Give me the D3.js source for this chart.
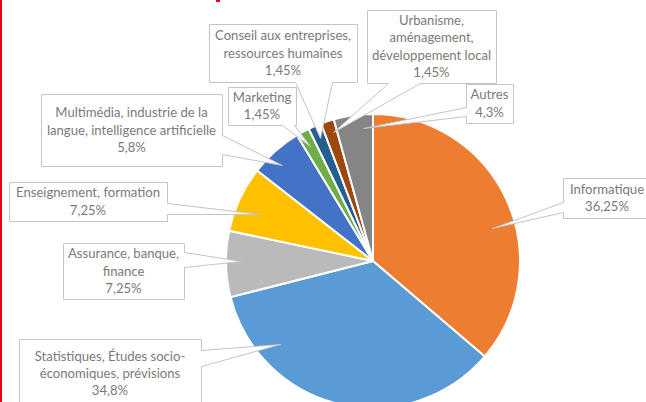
<!DOCTYPE html>
<html>
    <head>
        <meta charset="utf-8">
        <style>
            html, body {
                margin: 0px;
                padding: 0px;
                background-color: #ffffff;
            }

            #main svg {
                display: block;
            }

            .callout text {
                fill: #7a7a7a;
                font-family: Lato, sans-serif;
                font-size: 13.1px;
            }
        </style>
        <script src="https://cdn.jsdelivr.net/npm/d3@7"></script>
    </head>
    <body>
        <div id="main"></div>

        <script>
            // data
            var categories = [
                "Informatique",
                "Statistiques, Études socio-économiques, prévisions",
                "Assurance, banque, finance",
                "Enseignement, formation",
                "Multimédia, industrie de la langue, intelligence artificielle",
                "Marketing",
                "Conseil aux entreprises, ressources humaines",
                "Urbanisme, aménagement, développement local",
                "Autres"
            ];
            var values = [36.25, 34.8, 7.25, 7.25, 5.8, 1.45, 1.45, 1.45, 4.3];

            // how each category label is wrapped inside its callout
            var labelLines = [
                ["Informatique"],
                ["Statistiques, Études socio-", "économiques, prévisions"],
                ["Assurance, banque,", "finance"],
                ["Enseignement, formation"],
                ["Multimédia, industrie de la", "langue, intelligence artificielle"],
                ["Marketing"],
                ["Conseil aux entreprises,", "ressources humaines"],
                ["Urbanisme,", "aménagement,", "développement local"],
                ["Autres"]
            ];

            var colors = ["#ed7d31", "#5b9bd5", "#bababa", "#ffc000", "#4472c4",
                          "#70ad47", "#255e91", "#9e480e", "#858585"];

            // callout layout: box, side of the box the leader leaves from, and
            // where inside the slice the leader points (t = along slice, rf = radius fraction)
            var callouts = [
                {x: 563, y: 178, w: 88,  h: 40, side: "left",   a: 24, b: 34, t: 0.57, rf: 0.84},
                {x: 19,  y: 339, w: 182, h: 69, side: "right",  a: 11, b: 27, t: 0.78, rf: 0.85},
                {x: 63,  y: 243, w: 121, h: 56, side: "right",  a: 9,  b: 24, t: 0.55, rf: 0.90},
                {x: 9,   y: 182, w: 158, h: 39, side: "right",  a: 21, b: 32, t: 0.41, rf: 0.83},
                {x: 41,  y: 94,  w: 181, h: 72, side: "right",  a: 41, b: 60, t: 0.42, rf: 0.90},
                {x: 228, y: 87,  w: 68,  h: 38, side: "bottom", a: 54, b: 66, t: 0.47, rf: 0.89},
                {x: 209, y: 24,  w: 148, h: 58, side: "bottom", a: 86, b: 123, t: 0.46, rf: 0.91},
                {x: 367, y: 10,  w: 129, h: 73, side: "bottom", a: 21, b: 53, t: 0.63, rf: 0.92},
                {x: 466, y: 84,  w: 47,  h: 39, side: "left",   a: 23, b: 32, t: 0.72, rf: 0.91}
            ];

            var width = 646;
            var height = 402;
            var cx = 373;
            var cy = 261;
            var radius = 147;
            var lineStep = 17.2;

            function pct(v) {
                return String(v).replace(".", ",") + "%";
            }

            // position along the box outline, clockwise from the top-left corner
            function perimPoint(c, s) {
                if (c.side == "top") return {s: s, x: c.x + s, y: c.y};
                if (c.side == "right") return {s: c.w + s, x: c.x + c.w, y: c.y + s};
                if (c.side == "bottom") return {s: c.w + c.h + (c.w - s), x: c.x + s, y: c.y + c.h};
                return {s: 2 * c.w + c.h + (c.h - s), x: c.x, y: c.y + s};
            }

            function calloutPath(c, tip) {
                var corners = [
                    {s: 0, x: c.x, y: c.y},
                    {s: c.w, x: c.x + c.w, y: c.y},
                    {s: c.w + c.h, x: c.x + c.w, y: c.y + c.h},
                    {s: 2 * c.w + c.h, x: c.x, y: c.y + c.h}
                ];
                var p1 = perimPoint(c, c.a);
                var p2 = perimPoint(c, c.b);
                if (p1.s > p2.s) { var tmp = p1; p1 = p2; p2 = tmp; }
                var pts = [];
                corners.forEach(function(k) { if (k.s < p1.s) pts.push(k); });
                pts.push(p1, tip, p2);
                corners.forEach(function(k) { if (k.s > p2.s) pts.push(k); });
                return "M" + pts.map(function(p) {
                    return (Math.round(p.x) + 0.5) + "," + (Math.round(p.y) + 0.5);
                }).join("L") + "Z";
            }

            function main() {
                var svg = d3.select("#main")
                            .append("svg")
                            .attr("width", width)
                            .attr("height", height);

                var pie = d3.pie().sort(null).value(function(d) { return d; });
                var arcs = pie(values);
                var arc = d3.arc().innerRadius(0).outerRadius(radius);

                var g = svg.append("g")
                    .attr("transform", "translate(" + cx + "," + cy + ")");

                g.selectAll("path")
                    .data(arcs)
                  .enter().append("path")
                    .attr("d", arc)
                    .attr("fill", function(d, i) { return colors[i]; })
                    .attr("stroke", "#ffffff")
                    .attr("stroke-width", 2)
                    .attr("stroke-linejoin", "round");

                var co = svg.selectAll(".callout")
                    .data(arcs)
                  .enter().append("g")
                    .attr("class", "callout");

                co.append("path")
                    .attr("d", function(d, i) {
                        var c = callouts[i];
                        var ang = d.startAngle + (d.endAngle - d.startAngle) * c.t;
                        var r = radius * c.rf;
                        var tip = {x: cx + r * Math.sin(ang), y: cy - r * Math.cos(ang)};
                        return calloutPath(c, tip);
                    })
                    .attr("fill", "#ffffff")
                    .attr("stroke", "#c4c4c4")
                    .attr("stroke-width", 1);

                co.each(function(d, i) {
                    var c = callouts[i];
                    var lines = labelLines[i].concat([pct(values[i])]);
                    var top = c.y + c.h / 2 - (lines.length - 1) * lineStep / 2;
                    d3.select(this).selectAll("text")
                        .data(lines)
                      .enter().append("text")
                        .attr("x", c.x + c.w / 2)
                        .attr("y", function(l, j) { return top + j * lineStep; })
                        .attr("dy", "0.35em")
                        .attr("text-anchor", "middle")
                        .text(function(l) { return l; });
                });

                // red page border and cut-off title remnant
                svg.append("rect")
                    .attr("x", 0).attr("y", 0)
                    .attr("width", 2).attr("height", height)
                    .attr("fill", "#e30613");
                svg.append("rect")
                    .attr("x", 216).attr("y", 0)
                    .attr("width", 4).attr("height", 2)
                    .attr("fill", "#e30613");
            }

            main();
        </script>
    </body>
</html>
